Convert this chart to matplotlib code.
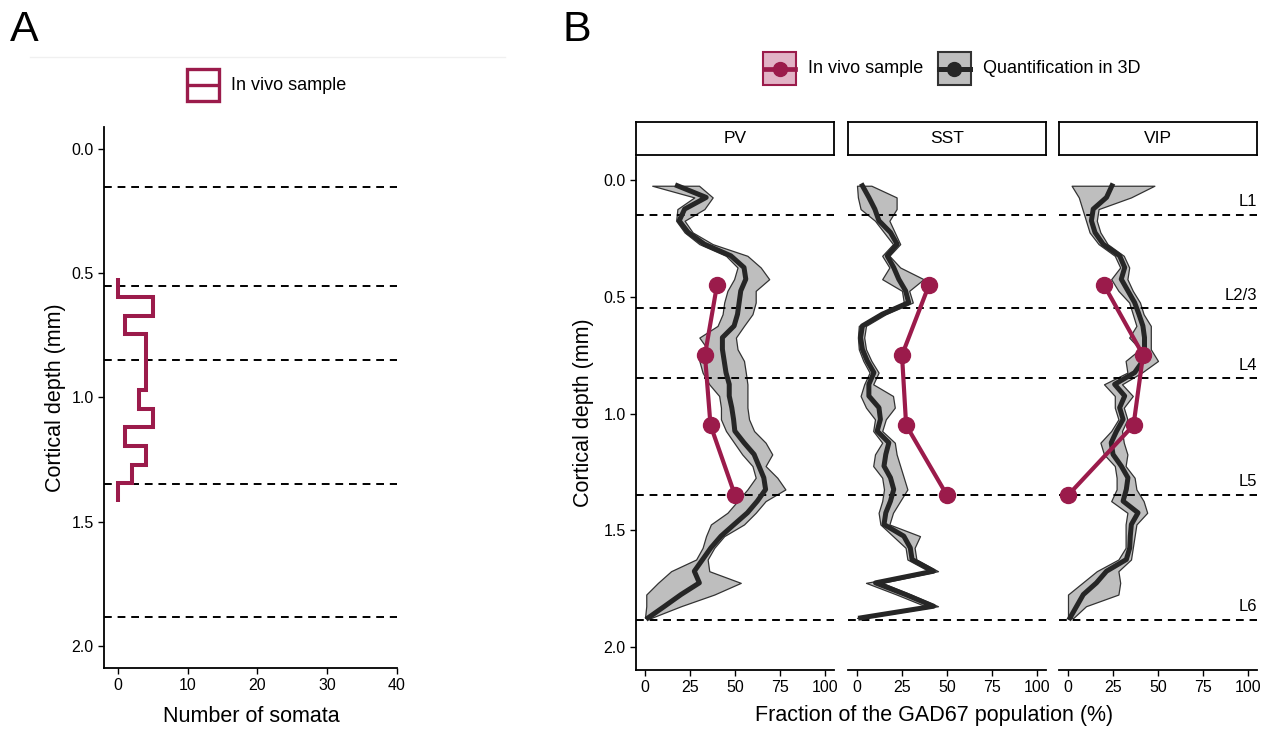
import matplotlib
matplotlib.use("Agg")
import matplotlib.pyplot as plt
from matplotlib.patches import Rectangle
from matplotlib.lines import Line2D

plt.rcParams['font.family'] = ['Liberation Sans', 'DejaVu Sans']

# layer boundaries (mm) and their names
layer_bounds = [0.15, 0.55, 0.85, 1.35, 1.885]
layer_names = ['L1', 'L2/3', 'L4', 'L5', 'L6']

# in vivo sample: somata per depth bin
hist_edges = [0.52, 0.595, 0.67, 0.745, 0.82, 0.895, 0.97, 1.045, 1.12, 1.195, 1.27, 1.345, 1.42]
hist_counts = [0, 5, 1, 4, 4, 4, 3, 5, 1, 4, 2, 0]

# in vivo sample: fraction per cell type at imaging depths
vivo_depth = [0.45, 0.75, 1.05, 1.35]
vivo_pv = [40.0, 33.3, 36.4, 50.0]
vivo_sst = [40.0, 25.0, 27.3, 50.0]
vivo_vip = [20.0, 41.7, 36.4, 0.0]

# 3D quantification: mean and band per depth
depth = [0.025, 0.075, 0.125, 0.175, 0.225, 0.275, 0.325, 0.375, 0.425, 0.475,
         0.525, 0.575, 0.625, 0.675, 0.725, 0.775, 0.825, 0.875, 0.925, 0.975,
         1.025, 1.075, 1.125, 1.175, 1.225, 1.275, 1.325, 1.375, 1.425, 1.475,
         1.525, 1.575, 1.625, 1.675, 1.725, 1.775, 1.825, 1.875]

pv_mean = [18, 34, 22, 19, 24, 33, 47.7, 55, 56, 53.2,
           52.3, 51.4, 49.5, 43, 43, 44, 45, 46.8, 46.8, 48.2,
           49.2, 49.9, 55, 60.6, 63.3, 66, 67, 62.4, 56.9, 49.5,
           42.2, 36.6, 32, 27.4, 30.2, 20, 10.9, 1.7]
pv_lo = [4, 27.4, 18, 17.3, 22, 30.2, 45, 51.4, 49.5, 45.8,
         44, 43.1, 40.3, 30.2, 34.8, 30.2, 32, 35.7, 41.2, 42.2,
         42.2, 45, 49.5, 54, 59.7, 61.5, 56.9, 51.4, 45.8, 36.6,
         33.9, 32, 28.4, 14.5, 7.2, 0.7, 0.7, 0]
pv_hi = [30, 37.6, 33, 22, 26.5, 37.6, 56.9, 64.3, 69, 61.5,
         61.5, 59.7, 55, 50.5, 51.4, 55, 56, 56.9, 56.9, 56.9,
         57.8, 60.6, 67, 70.7, 67, 73.5, 78, 67, 61.5, 55,
         44, 38.5, 34.8, 35.7, 53.2, 38.5, 20, 3.5]

sst_mean = [3, 6.6, 9.9, 12.2, 18.6, 22.3, 16.8, 20.4, 23.2, 27,
            28.7, 14, 3, 2, 3, 5.7, 9.4, 6.6, 6.6, 12.2,
            13, 11.2, 17.7, 16, 15, 18.6, 20.4, 18.6, 16, 15,
            26, 29.6, 30.6, 42.5, 10.3, 27, 42.5, 2]
sst_lo = [0, 0.5, 2, 10, 15, 20, 14, 18, 14, 25,
          26, 12, 1, 0.5, 1, 3.5, 7, 4, 2, 5,
          10, 9, 14, 10, 9, 14, 15, 14, 12, 13,
          20, 27, 28, 40, 5, 22, 38, 0]
sst_hi = [8, 22, 22, 18, 21, 24, 18, 24, 37, 29,
          31, 16, 5, 4, 5, 8, 12, 9, 20, 21,
          16, 14, 21, 22, 24, 26, 28, 24, 20, 18,
          35, 32, 33, 45, 14, 30, 45, 4]

vip_mean = [24.4, 21.4, 14, 13, 15, 19.5, 28.7, 31.5, 29.6, 33.3,
            37, 39.4, 41.6, 42.5, 42.5, 41.6, 37, 25.9, 31.5, 28.7,
            30.6, 27, 24, 25, 29.6, 33.3, 32.4, 30.6, 38.9, 35.2,
            34.6, 34.3, 32.4, 21.4, 15.8, 8.5, 4.8, 1.1]
vip_lo = [2, 6, 8, 10, 12, 17, 26, 29, 24, 28,
          34, 36, 38, 34, 40, 32, 33, 20, 26, 26,
          28, 24, 18, 20, 26, 27, 27, 24, 33, 32,
          32, 32, 28, 16, 8, 0, 0, 0]
vip_hi = [48, 35, 17, 16, 18, 22, 31, 34, 33, 36,
          40, 42, 46, 46, 46, 50, 41, 30, 36, 31,
          33, 30, 31, 33, 32, 37, 38, 42, 44, 38,
          37, 36, 35, 28, 29, 28, 10, 3]

facets = [
    ('PV', pv_mean, pv_lo, pv_hi, vivo_pv),
    ('SST', sst_mean, sst_lo, sst_hi, vivo_sst),
    ('VIP', vip_mean, vip_lo, vip_hi, vivo_vip),
]

RED = '#9b1b4b'
PINK = '#e2b3c6'
DARK = '#262626'
RIBBON = '#bebebe'
DASH = (0, (4, 3))

W, H = 1276, 729
fig = plt.figure(figsize=(W / 100, H / 100), dpi=100)


def px_axes(x0, y0, x1, y1):
    return fig.add_axes([x0 / W, 1 - y1 / H, (x1 - x0) / W, (y1 - y0) / H])


def style_axes(ax, left=True):
    for s in ['top', 'right']:
        ax.spines[s].set_visible(False)
    ax.spines['bottom'].set_linewidth(1.3)
    ax.spines['left'].set_linewidth(1.3)
    ax.spines['left'].set_visible(left)
    ax.tick_params(labelsize=11.5, colors='black', length=4, width=1.0)
    ax.tick_params(axis='y', left=left, labelleft=left)


def legend_key(x0, y0, size, face, edge, elw, color, lw, label, marker=None):
    # square key with a centred line (and optional point), label to the right
    fig.add_artist(Rectangle((x0 / W, 1 - (y0 + size) / H), size / W, size / H,
                             facecolor=face, edgecolor=edge, lw=elw,
                             transform=fig.transFigure))
    yc = 1 - (y0 + size / 2) / H
    fig.add_artist(Line2D([(x0 + 1) / W, (x0 + size - 1) / W], [yc, yc],
                          color=color, lw=lw, transform=fig.transFigure))
    if marker:
        fig.add_artist(Line2D([(x0 + size / 2) / W], [yc], color=color,
                              marker=marker, ms=10, lw=0,
                              transform=fig.transFigure))
    fig.text((x0 + size + 12) / W, yc, label, ha='left', va='center',
             fontsize=13)


# ---- panel A: histogram of somata ----
axA = px_axes(104, 127, 397, 668)
style_axes(axA)
for b in layer_bounds:
    axA.axhline(b, color='black', ls=DASH, lw=1.4, zorder=1)
axA.stairs(hist_counts, hist_edges, orientation='horizontal', baseline=None,
           color=RED, lw=2.9, zorder=3)
axA.set_xlim(-2, 40)
axA.set_ylim(2.09, -0.09)
axA.set_xticks([0, 10, 20, 30, 40])
axA.set_yticks([0.0, 0.5, 1.0, 1.5, 2.0])
axA.set_yticklabels(['0.0', '0.5', '1.0', '1.5', '2.0'])

fig.text(55 / W, 1 - 398 / H, 'Cortical depth (mm)', rotation=90,
         ha='center', va='center', fontsize=15.5)
fig.text(251 / W, 1 - 716 / H, 'Number of somata', ha='center', va='center',
         fontsize=15.5)

legend_key(187, 69, 32, 'white', RED, 2.4, RED, 2.4, 'In vivo sample')

# faint separator above panel A legend
fig.add_artist(Line2D([30 / W, 505 / W], [1 - 57 / H, 1 - 57 / H],
                      color='#f0f0f0', lw=1.0))

# ---- panel B: facets per interneuron class ----
lefts = [636, 848, 1059]
for i, (name, mean, lo, hi, vivo) in enumerate(facets):
    x0 = lefts[i]
    ax = px_axes(x0, 157, x0 + 198, 670)
    style_axes(ax, left=(i == 0))
    ax.fill_betweenx(depth, lo, hi, facecolor=RIBBON, edgecolor='#333333',
                     lw=0.9, zorder=1)
    for b in layer_bounds:
        ax.axhline(b, color='black', ls=DASH, lw=1.4, zorder=2)
    ax.plot(mean, depth, color=DARK, lw=3.6, zorder=3)
    ax.plot(vivo, vivo_depth, color=RED, lw=3.0, marker='o', ms=11.5,
            zorder=4)
    ax.set_xlim(-5, 105)
    ax.set_ylim(2.098, -0.098)
    ax.set_xticks([0, 25, 50, 75, 100])
    ax.set_yticks([0.0, 0.5, 1.0, 1.5, 2.0])
    ax.set_yticklabels(['0.0', '0.5', '1.0', '1.5', '2.0'])

    # facet strip
    st = px_axes(x0, 122, x0 + 198, 155)
    st.set_xticks([])
    st.set_yticks([])
    for s in st.spines.values():
        s.set_linewidth(1.3)
    st.text(0.5, 0.5, name, ha='center', va='center', fontsize=12.5,
            transform=st.transAxes)

    if name == 'VIP':
        for b, lab in zip(layer_bounds, layer_names):
            ax.text(1.0, b - 0.025, lab, ha='right', va='bottom', fontsize=12,
                    transform=ax.get_yaxis_transform())

fig.text(583 / W, 1 - 413 / H, 'Cortical depth (mm)', rotation=90,
         ha='center', va='center', fontsize=15.5)
fig.text(934 / W, 1 - 716 / H, 'Fraction of the GAD67 population (%)',
         ha='center', va='center', fontsize=15.5)

legend_key(763, 52, 33, PINK, RED, 1.5, RED, 3.4, 'In vivo sample', marker='o')
legend_key(938, 52, 33, RIBBON, '#333333', 1.5, DARK, 3.6,
           'Quantification in 3D', marker='o')

fig.text(24 / W, 1 - 30 / H, 'A', ha='center', va='center', fontsize=31)
fig.text(577 / W, 1 - 30 / H, 'B', ha='center', va='center', fontsize=31)

fig.savefig('out.png', dpi=100)
